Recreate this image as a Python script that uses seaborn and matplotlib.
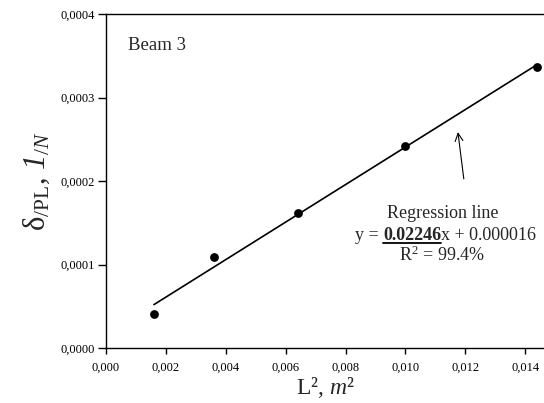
import numpy as np
import pandas as pd
import matplotlib
matplotlib.use("Agg")
import matplotlib.pyplot as plt
from matplotlib.ticker import FuncFormatter
from matplotlib.lines import Line2D
import seaborn as sns

# Measured points: squared span vs. normalised deflection
L2 = [0.0016, 0.0036, 0.0064, 0.0100, 0.0144]
delta_PL = [0.0000408, 0.0001086, 0.0001620, 0.0002425, 0.0003365]

# Fitted regression
slope = 0.02246
intercept = 0.000016
r2_pct = 99.4

x_ticks = [0.000, 0.002, 0.004, 0.006, 0.008, 0.010, 0.012, 0.014]
y_ticks = [0.0000, 0.0001, 0.0002, 0.0003, 0.0004]

sns.set_theme(style="ticks")
plt.rcParams["font.family"] = ["Liberation Serif", "DejaVu Serif"]
plt.rcParams["mathtext.fontset"] = "custom"
plt.rcParams["mathtext.rm"] = "Liberation Serif"
plt.rcParams["mathtext.it"] = "Liberation Serif:italic"
plt.rcParams["mathtext.bf"] = "Liberation Serif:bold"
# italic face reachable for digits too
plt.rcParams["mathtext.sf"] = "Liberation Serif:italic"

DPI = 100
fig = plt.figure(figsize=(5.44, 4.03), dpi=DPI)
ax = fig.add_axes([106 / 544, 1 - 348 / 403, 1 - 106 / 544, (348 - 14) / 403])

pts = pd.DataFrame({"L2": L2, "d": delta_PL})
fit_x = np.array([min(L2), max(L2)])
fit = pd.DataFrame({"L2": fit_x, "d": slope * fit_x + intercept})

sns.lineplot(data=fit, x="L2", y="d", color="black", linewidth=1.2, ax=ax)
sns.scatterplot(data=pts, x="L2", y="d", color="black", s=40, edgecolor="black",
                linewidth=0, ax=ax, zorder=3)

ax.set_xlim(0, 0.01463)
ax.set_ylim(0, 0.0004)
ax.set_xticks(x_ticks)
ax.set_yticks(y_ticks)
ax.xaxis.set_major_formatter(FuncFormatter(lambda v, p: f"{v:.3f}".replace(".", ",")))
ax.yaxis.set_major_formatter(FuncFormatter(lambda v, p: f"{v:.4f}".replace(".", ",")))
ax.tick_params(axis="both", direction="out", width=1, colors="black", labelsize=9)
ax.tick_params(axis="x", length=4, pad=6)
ax.tick_params(axis="y", length=6, pad=2)

for s in ["left", "top", "bottom"]:
    ax.spines[s].set_color("black")
    ax.spines[s].set_linewidth(1)
ax.spines["right"].set_visible(False)

ax.set_xlabel("L², $m$²", fontsize=17, labelpad=1)
ax.set_ylabel(r"$\mathrm{\delta}_{/\mathrm{PL}}$, $\mathsf{1}_{/N}$", fontsize=22, labelpad=6)

ax.text(0.00073, 0.0003617, "Beam 3", fontsize=13.5, ha="left", va="center")

ax.annotate("", xy=(0.011743, 0.0002619), xytext=(0.011963, 0.0001992),
            arrowprops=dict(arrowstyle="->", lw=0.8, color="black", mutation_scale=14))

ax.text(0.011235, 0.0001605, "Regression line", fontsize=13, ha="center", va="center")
ax.text(0.011215, 0.0001114, rf"R$^2$ = {r2_pct:.1f}%", fontsize=13, ha="center", va="center")

# Equation line assembled from pieces so the slope can be bold and underlined
fig.canvas.draw()
renderer = fig.canvas.get_renderer()
pieces = [("y = ", "normal"), (f"{slope:.5f}", "bold"), (f"x + {intercept:.6f}", "normal")]
tmp = [fig.text(0, 0, t, fontsize=13, fontweight=w) for t, w in pieces]
widths = [t.get_window_extent(renderer).width for t in tmp]
for t in tmp:
    t.remove()
cx, cy = ax.transData.transform((0.011336, 0.0001353))
x0 = cx - sum(widths) / 2
fig_h = fig.get_figheight() * DPI
fig_w = fig.get_figwidth() * DPI
for (t, w), wd in zip(pieces, widths):
    fig.text(x0 / fig_w, cy / fig_h, t, fontsize=13, fontweight=w, ha="left", va="center")
    if w == "bold":
        uy = (cy - 8) / fig_h
        fig.add_artist(Line2D([x0 / fig_w, (x0 + wd) / fig_w], [uy, uy],
                              color="black", linewidth=1.3))
    x0 += wd

fig.savefig("out.png", dpi=DPI)
